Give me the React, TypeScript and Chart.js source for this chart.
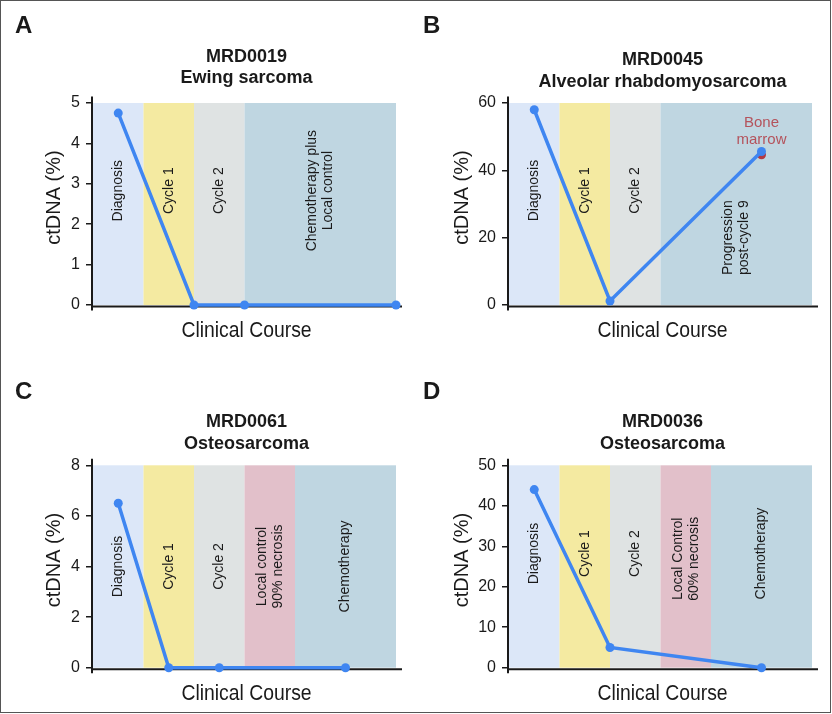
import React, { useEffect, useRef } from "react";
import { Chart, registerables } from "chart.js";
Chart.register(...registerables);

// ---------- Data ----------
// Panel A — MRD0019, Ewing sarcoma
const aPointX = [0.5, 2, 3, 6];
const aPointY = [4.75, 0, 0, 0];
const aBandEdges = [0, 1, 2, 3, 6];
const aBandKinds = ["diag", "cyc1", "cyc2", "chemo"];
const aBandLabels = [["Diagnosis"], ["Cycle 1"], ["Cycle 2"], ["Chemotherapy plus", "Local control"]];
const aLabelY = [2.83, 2.83, 2.83, 2.83];
const aYTicks = [0, 1, 2, 3, 4, 5];
const aTitle = ["MRD0019", "Ewing sarcoma"];

// Panel B — MRD0045, Alveolar rhabdomyosarcoma
const bPointX = [0.5, 2, 5];
const bPointY = [58, 1.2, 45.6];
const bMarrowX = [5];
const bMarrowY = [44.6];
const bMarrowText = ["Bone", "marrow"];
const bMarrowTextY = [54, 49.2];
const bBandEdges = [0, 1, 2, 3, 6];
const bBandKinds = ["diag", "cyc1", "cyc2", "chemo"];
const bBandLabels = [["Diagnosis"], ["Cycle 1"], ["Cycle 2"], ["Progression", "post-cycle 9"]];
const bLabelY = [34, 34, 34, 20];
const bYTicks = [0, 20, 40, 60];
const bTitle = ["MRD0045", "Alveolar rhabdomyosarcoma"];

// Panel C — MRD0061, Osteosarcoma
const cPointX = [0.5, 1.5, 2.5, 5];
const cPointY = [6.5, 0, 0, 0];
const cBandEdges = [0, 1, 2, 3, 4, 6];
const cBandKinds = ["diag", "cyc1", "cyc2", "local", "chemo"];
const cBandLabels = [["Diagnosis"], ["Cycle 1"], ["Cycle 2"], ["Local control", "90% necrosis"], ["Chemotherapy"]];
const cLabelY = [4.0, 4.0, 4.0, 4.0, 4.0];
const cYTicks = [0, 2, 4, 6, 8];
const cTitle = ["MRD0061", "Osteosarcoma"];

// Panel D — MRD0036, Osteosarcoma
const dPointX = [0.5, 2, 5];
const dPointY = [44, 5, 0];
const dBandEdges = [0, 1, 2, 3, 4, 6];
const dBandKinds = ["diag", "cyc1", "cyc2", "local", "chemo"];
const dBandLabels = [["Diagnosis"], ["Cycle 1"], ["Cycle 2"], ["Local Control", "60% necrosis"], ["Chemotherapy"]];
const dLabelY = [28.2, 28.2, 28.2, 26.9, 28.2];
const dYTicks = [0, 10, 20, 30, 40, 50];
const dTitle = ["MRD0036", "Osteosarcoma"];

const yAxisTitle = "ctDNA (%)";
const xAxisTitle = "Clinical Course";

// ---------- Styles ----------
const BAND_COLORS: Record<string, string> = {
  diag: "#dce7f8",
  cyc1: "#f4eaa1",
  cyc2: "#dfe3e3",
  local: "#e2c0ca",
  chemo: "#bfd6e1",
};
const LINE_BLUE = "#3f86f1";
const MARROW_RED = "#b03a44";
const MARROW_TEXT = "#b4535c";
const INK = "#1a1a1a";
const SANS = '"Liberation Sans", Arial, Helvetica, sans-serif';

type PanelCfg = {
  letter: string;
  ox: number;
  oy: number;
  letterX: number;
  letterBase: number;
  titleBase: number;
  yTitleX: number;
  plot: { left: number; right: number; top: number; bottom: number };
  xs: number[];
  ys: number[];
  edges: number[];
  kinds: string[];
  labels: string[][];
  labelY: number[];
  yTicks: number[];
  title: string[];
  marrow?: { x: number[]; y: number[]; text: string[]; textY: number[] };
};

const PANELS: PanelCfg[] = [
  {
    letter: "A", ox: 0, oy: 0, letterX: 15, letterBase: 33, titleBase: 61.5, yTitleX: 60,
    plot: { left: 93, right: 396, top: 103, bottom: 305 },
    xs: aPointX, ys: aPointY, edges: aBandEdges, kinds: aBandKinds, labels: aBandLabels,
    labelY: aLabelY, yTicks: aYTicks, title: aTitle,
  },
  {
    letter: "B", ox: 416, oy: 0, letterX: 7, letterBase: 33, titleBase: 65, yTitleX: 52,
    plot: { left: 93, right: 396, top: 103, bottom: 305 },
    xs: bPointX, ys: bPointY, edges: bBandEdges, kinds: bBandKinds, labels: bBandLabels,
    labelY: bLabelY, yTicks: bYTicks, title: bTitle,
    marrow: { x: bMarrowX, y: bMarrowY, text: bMarrowText, textY: bMarrowTextY },
  },
  {
    letter: "C", ox: 0, oy: 357, letterX: 15, letterBase: 41.5, titleBase: 70, yTitleX: 60,
    plot: { left: 93, right: 396, top: 108.3, bottom: 310.7 },
    xs: cPointX, ys: cPointY, edges: cBandEdges, kinds: cBandKinds, labels: cBandLabels,
    labelY: cLabelY, yTicks: cYTicks, title: cTitle,
  },
  {
    letter: "D", ox: 416, oy: 357, letterX: 7, letterBase: 41.5, titleBase: 70, yTitleX: 52,
    plot: { left: 93, right: 396, top: 108.3, bottom: 310.7 },
    xs: dPointX, ys: dPointY, edges: dBandEdges, kinds: dBandKinds, labels: dBandLabels,
    labelY: dLabelY, yTicks: dYTicks, title: dTitle,
  },
];

const W = 416;
const H = 357;
const X_AXIS_H = 40;

function makeDeco(cfg: PanelCfg) {
  return {
    id: "deco" + cfg.letter,
    beforeDatasetsDraw(chart: any) {
      const { ctx, chartArea: ca, scales } = chart;
      const xs = scales.x;
      const ys = scales.y;
      const yMax = cfg.yTicks[cfg.yTicks.length - 1];
      ctx.save();
      // bands
      for (let i = 0; i < cfg.kinds.length; i++) {
        const x0 = xs.getPixelForValue(cfg.edges[i]);
        const x1 = xs.getPixelForValue(cfg.edges[i + 1]);
        const y0 = ys.getPixelForValue(yMax);
        const y1 = ys.getPixelForValue(0);
        ctx.fillStyle = BAND_COLORS[cfg.kinds[i]];
        ctx.fillRect(x0, y0, x1 - x0, y1 - y0);
      }
      // band labels (rotated)
      ctx.fillStyle = INK;
      ctx.font = `14px ${SANS}`;
      ctx.textAlign = "center";
      ctx.textBaseline = "middle";
      for (let i = 0; i < cfg.kinds.length; i++) {
        const cx = (xs.getPixelForValue(cfg.edges[i]) + xs.getPixelForValue(cfg.edges[i + 1])) / 2;
        const cy = ys.getPixelForValue(cfg.labelY[i]);
        const lines = cfg.labels[i];
        const n = lines.length;
        for (let j = 0; j < n; j++) {
          const off = (j - (n - 1) / 2) * 16;
          ctx.save();
          ctx.translate(cx + off, cy);
          ctx.rotate(-Math.PI / 2);
          ctx.fillText(lines[j], 0, 0);
          ctx.restore();
        }
      }
      // axis lines
      ctx.strokeStyle = INK;
      ctx.lineWidth = 2;
      ctx.beginPath();
      ctx.moveTo(ca.left - 1, ca.top - 6.5);
      ctx.lineTo(ca.left - 1, ca.bottom + 5.5);
      ctx.stroke();
      ctx.beginPath();
      ctx.moveTo(ca.left - 2, ca.bottom + 1.5);
      ctx.lineTo(ca.right + 6, ca.bottom + 1.5);
      ctx.stroke();
      ctx.restore();
    },
    afterDraw(chart: any) {
      const { ctx, chartArea: ca, scales } = chart;
      ctx.save();
      ctx.fillStyle = INK;
      // panel letter
      ctx.font = `bold 24px ${SANS}`;
      ctx.textAlign = "left";
      ctx.textBaseline = "alphabetic";
      ctx.fillText(cfg.letter, cfg.letterX, cfg.letterBase);
      // title
      const tcx = (ca.left + ca.right) / 2 + 2;
      ctx.font = `bold 18px ${SANS}`;
      ctx.textAlign = "center";
      cfg.title.forEach((t, i) => ctx.fillText(t, tcx, cfg.titleBase + i * 21.5));
      // y title
      ctx.font = `20px ${SANS}`;
      ctx.save();
      ctx.translate(cfg.yTitleX, (ca.top + ca.bottom) / 2 - 6.5);
      ctx.rotate(-Math.PI / 2);
      ctx.textAlign = "center";
      ctx.textBaseline = "alphabetic";
      ctx.fillText(yAxisTitle, 0, 0);
      ctx.restore();
      // x title (condensed look: horizontally compressed sans)
      ctx.save();
      ctx.translate((ca.left + ca.right) / 2 + 2, ca.bottom + 32);
      ctx.scale(0.88, 1);
      ctx.font = `22px ${SANS}`;
      ctx.textAlign = "center";
      ctx.fillText(xAxisTitle, 0, 0);
      ctx.restore();
      // bone marrow annotation
      if (cfg.marrow) {
        ctx.fillStyle = MARROW_TEXT;
        ctx.font = `15px ${SANS}`;
        ctx.textAlign = "center";
        ctx.textBaseline = "middle";
        const mx = scales.x.getPixelForValue(cfg.marrow.x[0]);
        cfg.marrow.text.forEach((t, i) => ctx.fillText(t, mx, scales.y.getPixelForValue(cfg.marrow!.textY[i])));
      }
      ctx.restore();
    },
  };
}

function Panel({ cfg }: { cfg: PanelCfg }) {
  const ref = useRef<HTMLCanvasElement | null>(null);
  useEffect(() => {
    if (!ref.current) return;
    const yMax = cfg.yTicks[cfg.yTicks.length - 1];
    const step = cfg.yTicks[1] - cfg.yTicks[0];
    const datasets: any[] = [
      {
        data: cfg.xs.map((x, i) => ({ x, y: cfg.ys[i] })),
        borderColor: LINE_BLUE,
        backgroundColor: LINE_BLUE,
        borderWidth: 3.5,
        pointRadius: 4.5,
        pointBorderWidth: 0,
        pointBackgroundColor: LINE_BLUE,
        tension: 0,
        clip: false,
      },
    ];
    if (cfg.marrow) {
      datasets.push({
        data: cfg.marrow.x.map((x, i) => ({ x, y: cfg.marrow!.y[i] })),
        showLine: false,
        pointRadius: 4.5,
        pointBorderWidth: 0,
        pointBackgroundColor: MARROW_RED,
        borderColor: MARROW_RED,
        clip: false,
      });
    }
    const p = cfg.plot;
    const chart = new Chart(ref.current, {
      type: "line",
      data: { datasets },
      options: {
        animation: false,
        responsive: false,
        devicePixelRatio: 1,
        layout: {
          padding: { top: p.top, left: 0, right: W - p.right, bottom: H - p.bottom - X_AXIS_H },
        },
        plugins: { legend: { display: false }, tooltip: { enabled: false }, title: { display: false } },
        scales: {
          x: {
            type: "linear",
            min: 0,
            max: 6,
            ticks: { display: false },
            grid: { display: false },
            border: { display: false },
            afterFit: (s: any) => { s.height = X_AXIS_H; },
          },
          y: {
            type: "linear",
            min: 0,
            max: yMax,
            ticks: {
              stepSize: step,
              color: INK,
              padding: 6,
              font: { family: SANS, size: 16 },
            },
            grid: { drawOnChartArea: false, drawTicks: true, tickLength: 7, color: INK, lineWidth: 1.5 },
            border: { display: false },
            afterFit: (s: any) => { s.width = p.left; },
          },
        },
      } as any,
      plugins: [makeDeco(cfg)],
    });
    return () => chart.destroy();
  }, [cfg]);
  return (
    <canvas
      ref={ref}
      width={W}
      height={H}
      style={{ position: "absolute", left: cfg.ox, top: cfg.oy, width: W, height: H }}
    />
  );
}

export default function App() {
  return (
    <div style={{ position: "fixed", left: 0, top: 0, width: 832, height: 714, background: "#fff", overflow: "hidden" }}>
      {PANELS.map((cfg) => (
        <Panel key={cfg.letter} cfg={cfg} />
      ))}
      <div
        style={{
          position: "absolute",
          left: 0,
          top: 0,
          width: 831,
          height: 713,
          border: "1.5px solid #555",
          boxSizing: "border-box",
          pointerEvents: "none",
        }}
      />
    </div>
  );
}
